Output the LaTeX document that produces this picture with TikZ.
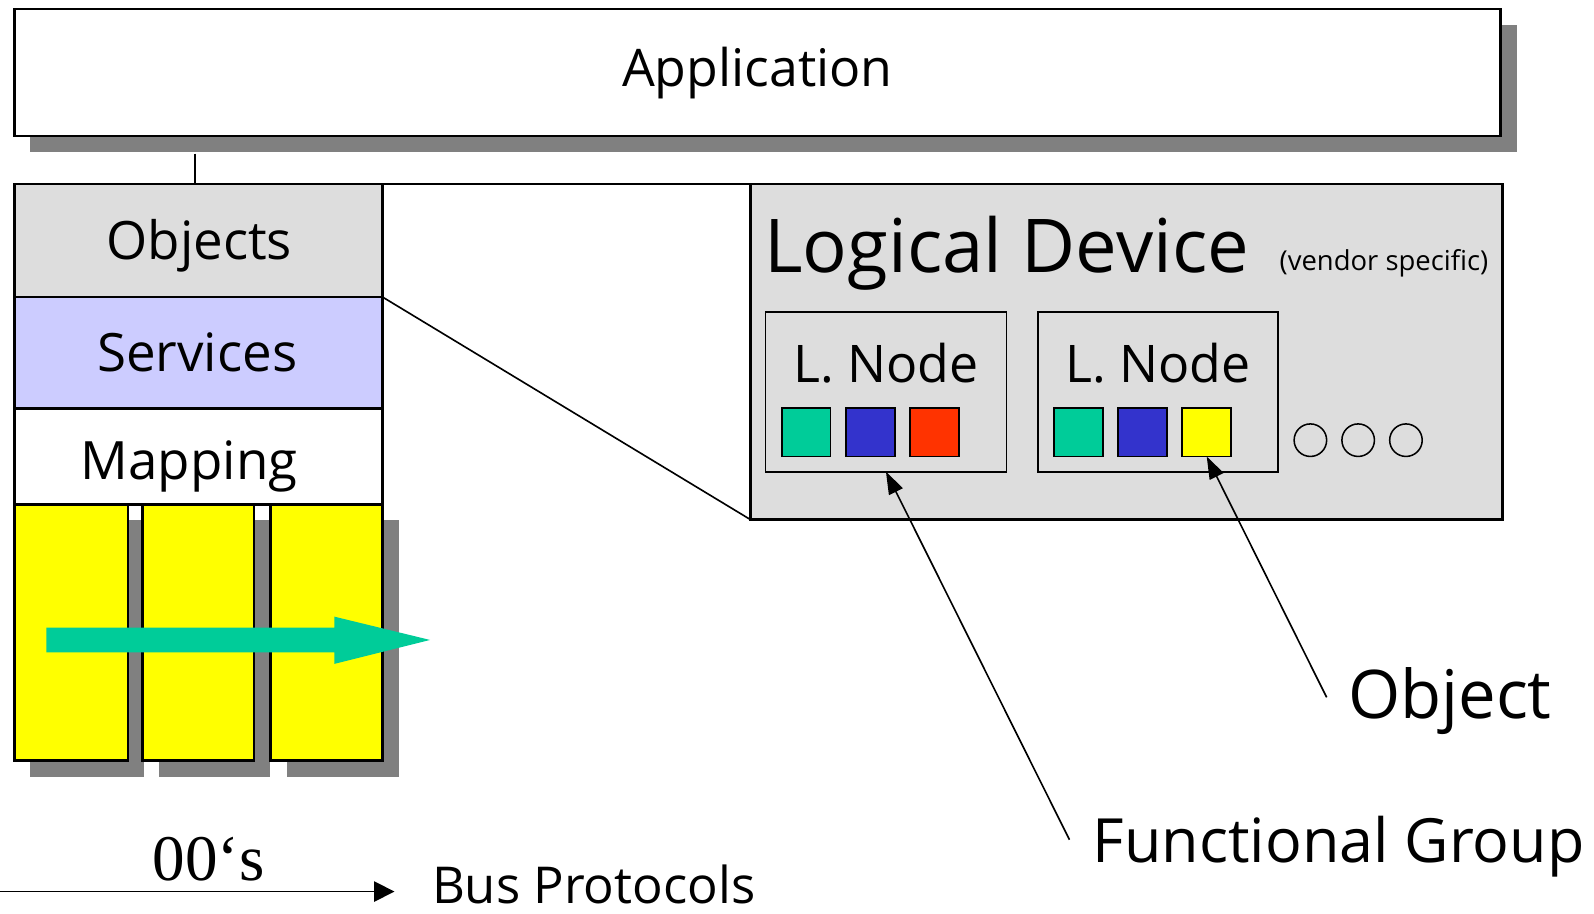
\documentclass[tikz,border=0pt]{standalone}
\usepackage{fontspec}
\setmainfont{Open Sans}
\newfontfamily\tnr{Liberation Serif}
\usetikzlibrary{arrows.meta,shadows}
\definecolor{boxgray}{HTML}{DDDDDD}
\definecolor{shgray}{HTML}{808080}
\definecolor{srvblue}{HTML}{CCCCFF}
\definecolor{ygold}{HTML}{FFFF00}
\definecolor{fgreen}{HTML}{00CC99}
\definecolor{fblue}{HTML}{3333CC}
\definecolor{fred}{HTML}{FF3300}
\tikzset{
  shadowed/.style={drop shadow={shadow xshift=16pt, shadow yshift=-16pt, opacity=1, fill=shgray}},
  layer/.style={draw, line width=2.5pt, inner sep=0pt, outer sep=0pt, anchor=north west,
    minimum width=362pt, font=\fontsize{52}{62}\selectfont},
  colbox/.style={draw, line width=2.5pt, fill=ygold, inner sep=0pt, outer sep=0pt,
    anchor=north west, minimum height=252pt, shadowed},
  lnbox/.style={draw, line width=1.8pt, fill=boxgray, inner sep=0pt, outer sep=0pt,
    anchor=north west, minimum width=237pt, minimum height=157pt},
  sq/.style={draw, line width=1.8pt, inner sep=0pt, outer sep=0pt, anchor=north west,
    minimum width=48pt, minimum height=48pt},
  dot/.style={draw, circle, line width=1.5pt, inner sep=0pt, minimum size=32pt},
  lbl/.style={inner sep=0pt, outer sep=0pt},
  thin/.style={line width=1.6pt},
  tip/.style={line width=1.6pt, -{Triangle[length=22pt,width=15pt]}}
}
\begin{document}
\begin{tikzpicture}[x=1pt,y=-1pt]
\useasboundingbox (0,0) rectangle (1568,899);
% Application
\node[layer, fill=white, shadowed, minimum width=1462pt, minimum height=125pt,
  font=\fontsize{51}{60}\selectfont] (app) at (14,9) {Application};
% stack
\node[layer, fill=boxgray, minimum height=111pt] (obj) at (14,181) {};
\node[lbl, anchor=base, font=\fontsize{52}{62}\selectfont] (objt) at (196,255) {Objects};
\node[layer, fill=srvblue, minimum height=110pt] (srv) at (14,292) {};
\node[lbl, anchor=base, font=\fontsize{52}{62}\selectfont] (srvt) at (194,365) {Services};
\node[layer, fill=white, minimum height=94pt] (map) at (14,402) {};
\node[lbl, anchor=base, font=\fontsize{52}{62}\selectfont] (mapt) at (186,472) {Mapping};
\node[colbox, minimum width=112pt] (c1) at (14,496) {};
\node[colbox, minimum width=110pt] (c2) at (140,496) {};
\node[colbox, minimum width=110pt] (c3) at (266,496) {};
\fill[fgreen] (45.6,617.4) -- (329,617.4) -- (329,606.6) -- (423,629.5) -- (329,653)
  -- (329,641.7) -- (45.6,641.7) -- cycle;
% link app - objects
\coordinate (appsh) at (192,151);
\draw[thin] (appsh) -- (appsh |- obj.north);
% logical device
\node[draw, fill=boxgray, line width=2.5pt, anchor=north west, minimum width=740pt,
  minimum height=330pt, inner sep=0pt, outer sep=0pt] (ld) at (738,181) {};
\draw[thin] (obj.north east) -- (ld.north west);
\draw[thin] (srv.north east) -- (ld.south west);
\node[lbl, anchor=base west, font=\fontsize{73}{80}\selectfont] (ldt) at (752,268) {Logical Device};
\node[lbl, anchor=base east, font=\fontsize{27}{32}\selectfont] (vs) at (1464,266) {(vendor specific)};
\node[lnbox] (ln1) at (753,307) {};
\node[lnbox, minimum width=236pt] (ln2) at (1021,307) {};
\node[lbl, anchor=base, font=\fontsize{51}{60}\selectfont] (ln1t) at (ln1.center |- 0,376) {L. Node};
\node[lbl, anchor=base, font=\fontsize{51}{60}\selectfont] (ln2t) at (ln2.center |- 0,376) {L. Node};
\node[sq, fill=fgreen] (s11) at (769,401) {};
\node[sq, fill=fblue] (s12) at (832,401) {};
\node[sq, fill=fred] (s13) at (895,401) {};
\node[sq, fill=fgreen] (s21) at (1037,401) {};
\node[sq, fill=fblue] (s22) at (1100,401) {};
\node[sq, fill=ygold] (s23) at (1163,401) {};
\node[dot] (d1) at (1289,433) {};
\node[dot] (d2) at (1336,433) {};
\node[dot] (d3) at (1383,433) {};
% callouts
\node[lbl, anchor=base west, font=\fontsize{66}{76}\selectfont] (objlbl) at (1326,707) {Object};
\node[lbl, anchor=base west, font=\fontsize{60}{70}\selectfont] (fglbl) at (1075,848) {Functional Group};
\coordinate (objl) at (1305,686);
\coordinate (fgl) at (1052,826);
\draw[tip] (objl) -- (s23.south);
\draw[tip] (fgl) -- (ln1.south);
% bus protocols
\node[lbl, anchor=base west, font=\tnr\fontsize{64}{70}\selectfont] (yrs) at (150,866) {00‘s};
\node[lbl, anchor=base west, font=\fontsize{50}{60}\selectfont] (bus) at (425,889) {Bus Protocols};
\coordinate (busa) at (0,877);
\coordinate (busb) at (388,877);
\draw[line width=1.6pt, -{Triangle[length=20pt,width=20pt]}] (busa) -- (busb);
\end{tikzpicture}
\end{document}
